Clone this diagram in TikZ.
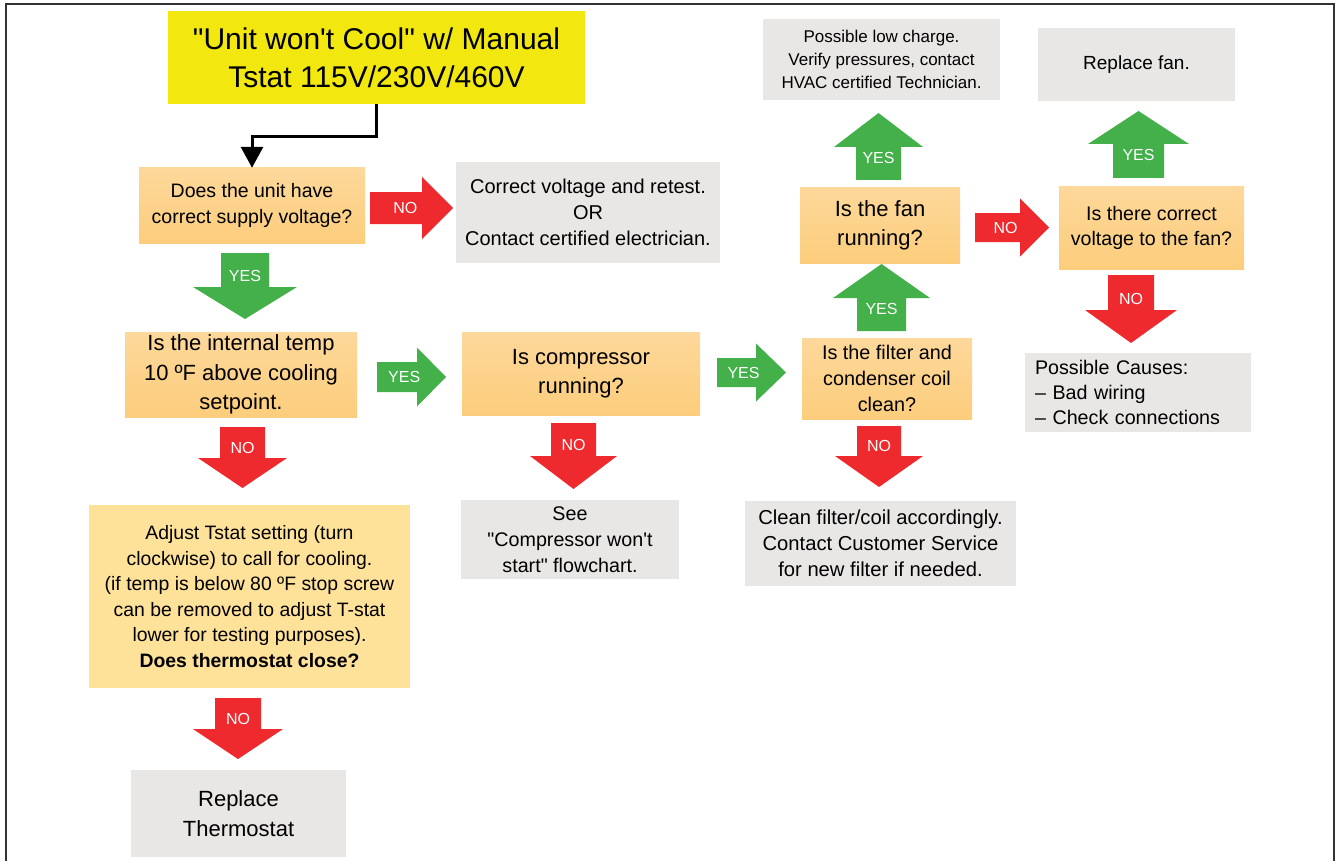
\documentclass[tikz,border=0pt]{standalone}
\usepackage{fontspec}
\setmainfont{Liberation Sans}[Ligatures=TeXOff]
\usepackage{xcolor}
\usepackage{tikz}
\usetikzlibrary{arrows.meta}

\definecolor{ttlyel}{HTML}{F2E80F}
\definecolor{qtop}{HTML}{FDD89B}
\definecolor{qbot}{HTML}{FCCD7C}
\definecolor{adjfill}{HTML}{FFE299}
\definecolor{infogray}{HTML}{E8E7E6}
\definecolor{yesgreen}{HTML}{43B04A}
\definecolor{nored}{HTML}{EE2A2F}
\definecolor{framegray}{HTML}{333333}

\newcommand{\fs}[2]{\fontsize{#1}{#2}\selectfont}

\begin{document}
\begin{tikzpicture}[x=1pt,y=-1pt]
        \tikzset{qbox/.style={top color=qtop,bottom color=qbot,inner sep=0,align=center},
        infobox/.style={fill=infogray,inner sep=0,align=center},
        lbl/.style={text=white,font=\fs{16}{16},inner sep=0},
        conn/.style={line width=3pt,-{Triangle[width=22pt,length=21pt]}},
        pics/blk/.style n args={6}{code={%
            \fill[#1] (-#3,0) -- (-#3,#5) -- (-#4,#5) -- (0,#6) -- (#4,#5) -- (#3,#5) -- (#3,0) -- cycle;
            \node[lbl] (-t) at (0,{#5*0.68}) {#2};}}}
    
        \useasboundingbox (0,0) rectangle (1337,861);
        \draw[framegray,line width=2pt] (6,870) -- (6,4.5) -- (1333.5,4.5) -- (1333.5,870);
        
        % start
        \node[fill=ttlyel,inner sep=0,align=center,minimum width=417,minimum height=93,font=\fs{30}{38}] (title) at (376.5,57.5) {\raisebox{-2pt}{"Unit won't Cool" w/ Manual}\\\raisebox{-2pt}{Tstat 115V/230V/460V}};
        
        % left column
        \node[qbox,minimum width=226,minimum height=75,font=\fs{19.5}{26}] (supply) at (252,205.5) {Does the unit have\\correct supply voltage?};
        \node[qbox,minimum width=232,minimum height=85,font=\fs{22}{29.5}] (temp) at (241,374.5) {Is the internal temp\\10 ºF above cooling\\setpoint.};
        \node[fill=adjfill,inner sep=0,align=center,minimum width=321,minimum height=183,font=\fs{19.4}{25.6}] (adjust) at (249.5,596.5) {Adjust Tstat setting (turn\\clockwise) to call for cooling.\\(if temp is below 80 ºF stop screw\\can be removed to adjust T-stat\\lower for testing purposes).\\\textbf{Does thermostat close?}};
        \node[infobox,minimum width=215,minimum height=87,font=\fs{22}{30}] (repstat) at (238.5,813.5) {Replace\\Thermostat};
        
        % middle column
        \node[infobox,minimum width=264,minimum height=101,font=\fs{20}{26}] (volt) at (588,212.5) {Correct voltage and retest.\\OR\\Contact certified electrician.};
        \node[qbox,minimum width=238,minimum height=83,font=\fs{22}{29.5}] (comp) at (581,373.5) {Is compressor\\running?};
        \node[infobox,minimum width=218,minimum height=79,font=\fs{19.7}{26}] (seecomp) at (570,539.5) {See\\"Compressor won't\\start" flowchart.};
        
        % right columns
        \node[infobox,minimum width=237,minimum height=81,font=\fs{17}{23}] (lowchg) at (881.5,59.5) {Possible low charge.\\Verify pressures, contact\\HVAC certified Technician.};
        \node[qbox,minimum width=160,minimum height=76,font=\fs{22}{29}] (fan) at (880,225) {Is the fan\\running?};
        \node[qbox,minimum width=170,minimum height=81,font=\fs{19.8}{26}] (filter) at (887,378.5) {Is the filter and\\condenser coil\\clean?};
        \node[infobox,minimum width=271,minimum height=85,font=\fs{20.2}{26}] (clean) at (880.5,543.5) {Clean filter/coil accordingly.\\Contact Customer Service\\for new filter if needed.};
        \node[infobox,minimum width=197,minimum height=73,font=\fs{19}{25}] (repfan) at (1136.5,64.5) {Replace fan.};
        \node[qbox,minimum width=185,minimum height=83,font=\fs{19.6}{25}] (fanvolt) at (1151.5,227.5) {Is there correct\\voltage to the fan?};
        \node[infobox,align=left,text width=206,minimum width=226,minimum height=79,font=\fs{19.7}{25}] (causes) at (1138,392.5) {Possible Causes:\\– Bad wiring\\– Check connections};
        
        % arrows
        \draw[conn] (title.south) -- ++(0,32) -| (supply.north);
        % down
        \pic (a1) at (245,253) {blk={yesgreen}{YES}{24}{52}{34}{66}};
        \pic (a2) at (242.5,427) {blk={nored}{NO}{22.5}{44.5}{31}{61}};
        \pic (a3) at (238,698) {blk={nored}{NO}{23}{45}{31}{61}};
        \pic (a4) at (573.5,423) {blk={nored}{NO}{22.5}{43.5}{33}{66}};
        \pic (a5) at (879,426) {blk={nored}{NO}{22}{44}{30}{61}};
        \pic (a6) at (1131,275) {blk={nored}{NO}{23}{46}{35}{68}};
        % up
        \pic[rotate=180] (a7) at (881.5,331) {blk={yesgreen}{YES}{24.5}{48.5}{33}{67}};
        \pic[rotate=180] (a8) at (878.5,180) {blk={yesgreen}{YES}{22.5}{44.5}{33}{67}};
        \pic[rotate=180] (a9) at (1138.5,178) {blk={yesgreen}{YES}{25.5}{50.5}{34}{67}};
        % right
        \pic[rotate=90] (a10) at (370,208) {blk={nored}{NO}{16}{31}{52}{83}};
        \pic[rotate=90] (a11) at (377,377) {blk={yesgreen}{YES}{15}{29.5}{40}{69}};
        \pic[rotate=90] (a12) at (717,372.5) {blk={yesgreen}{YES}{14.5}{29}{39}{69}};
        \pic[rotate=90] (a13) at (975,227.5) {blk={nored}{NO}{14.5}{29}{45}{74}};
    \end{tikzpicture}
\end{document}
